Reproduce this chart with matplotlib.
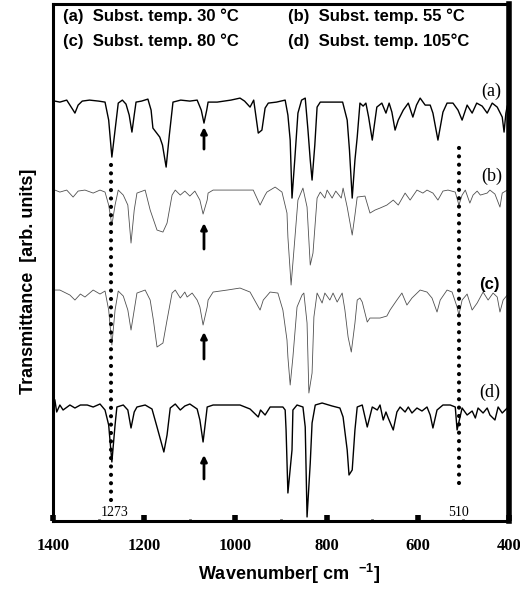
import matplotlib.pyplot as plt

plt.rcParams['font.family'] = ['Liberation Sans', 'DejaVu Sans']
plt.rcParams['mathtext.fontset'] = 'custom'
plt.rcParams['mathtext.rm'] = 'Liberation Sans:bold'
plt.rcParams['mathtext.bf'] = 'Liberation Sans:bold'

# Spektren (Wellenzahl, Transmission in willk. Einheiten)
wn_a = [1396, 1385, 1370, 1356, 1352, 1345, 1336, 1320, 1300, 1286, 1278, 1271, 1264, 1257, 1248, 1240,
        1233, 1227, 1222, 1218, 1206, 1192, 1185, 1181, 1166, 1160, 1152, 1145, 1137, 1120, 1100, 1084,
        1075, 1069, 1063, 1060, 1040, 1010, 990, 980, 968, 960, 950, 942, 935, 928, 910, 891, 885, 880,
        876, 870, 863, 855, 847, 841, 836, 832, 826, 821, 814, 790, 765, 755, 750, 744, 738, 733, 727,
        720, 714, 708, 700, 690, 679, 670, 663, 657, 650, 643, 632, 621, 611, 603, 595, 584, 573, 567,
        556, 545, 536, 523, 512, 503, 492, 481, 471, 459, 448, 437, 426, 415, 411, 407, 404]
tr_a = [420, 419, 421, 411, 408, 416, 420, 421, 420, 419, 401, 364, 391, 418, 421, 417,
        406, 389, 406, 419, 420, 422, 411, 393, 384, 376, 354, 386, 419, 421, 420, 421,
        411, 398, 411, 419, 419, 421, 423, 420, 414, 421, 388, 391, 413, 418, 419, 421, 406, 381,
        323, 361, 408, 421, 423, 391, 361, 341, 376, 414, 419, 419, 419, 401, 371, 323, 361, 384, 418,
        415, 418, 404, 381, 414, 418, 408, 418, 409, 391, 401, 411, 418, 404, 416, 423, 416, 416, 408,
        381, 409, 418, 418, 411, 401, 416, 408, 418, 415, 408, 418, 414, 404, 389, 408, 415]

wn_b = [1396, 1385, 1370, 1356, 1345, 1330, 1312, 1297, 1286, 1278, 1271, 1264, 1257, 1246, 1236, 1229,
        1222, 1216, 1198, 1187, 1172, 1159, 1150, 1139, 1132, 1121, 1111, 1100, 1089, 1078, 1071, 1062,
        1060, 1049, 1000, 961, 946, 935, 931, 913, 898, 887, 885, 878, 870, 863, 852, 843, 836, 830,
        821, 814, 804, 799, 788, 780, 768, 764, 755, 744, 738, 733, 716, 705, 694, 683, 668, 654, 643,
        628, 617, 602, 589, 580, 567, 556, 545, 534, 518, 510, 503, 496, 486, 479, 470, 463, 448, 442,
        431, 420, 415, 404]
tr_b = [331, 329, 331, 324, 330, 331, 328, 331, 329, 316, 296, 316, 331, 326, 316, 278,
        311, 328, 331, 311, 291, 289, 298, 326, 331, 326, 330, 325, 330, 321, 307, 321,
        328, 331, 331, 331, 316, 326, 329, 334, 329, 308, 284, 236, 281, 321, 333, 314, 256, 268,
        323, 329, 323, 331, 323, 330, 323, 333, 314, 286, 306, 324, 325, 308, 311, 313, 316, 321, 316,
        328, 321, 331, 328, 331, 328, 321, 330, 331, 329, 316, 326, 331, 318, 326, 330, 326, 328, 331,
        327, 314, 328, 331]

wn_c = [1396, 1385, 1363, 1352, 1340, 1330, 1312, 1297, 1286, 1278, 1271, 1264, 1257, 1246, 1236, 1229,
        1222, 1216, 1198, 1187, 1180, 1172, 1159, 1150, 1139, 1132, 1121, 1111, 1106, 1095, 1084, 1078,
        1071, 1062, 1060, 1049, 1018, 990, 968, 946, 939, 924, 907, 896, 887, 885, 880, 874, 865, 854,
        850, 843, 839, 832, 828, 821, 810, 804, 793, 786, 777, 766, 760, 753, 746, 738, 733, 727, 722,
        711, 705, 694, 683, 668, 661, 646, 635, 624, 613, 595, 580, 569, 558, 551, 536, 525, 514, 510,
        503, 492, 481, 470, 457, 446, 435, 426, 420, 413, 404]
tr_c = [231, 231, 226, 221, 227, 224, 231, 227, 230, 211, 176, 211, 230, 225, 211, 191,
        211, 228, 231, 221, 201, 174, 178, 201, 228, 231, 223, 229, 224, 228, 221, 214,
        196, 214, 221, 229, 231, 233, 229, 211, 221, 229, 228, 211, 181, 164, 136, 164, 214, 226,
        228, 198, 128, 148, 204, 228, 218, 228, 221, 228, 219, 228, 211, 184, 169, 198, 221, 223, 219,
        199, 203, 203, 203, 205, 211, 221, 228, 216, 223, 231, 229, 223, 209, 221, 231, 229, 214, 206,
        221, 227, 211, 218, 229, 221, 228, 224, 209, 221, 226]

wn_d = [1396, 1392, 1385, 1378, 1363, 1352, 1340, 1325, 1312, 1297, 1286, 1278, 1271, 1264, 1260, 1246,
        1236, 1229, 1222, 1216, 1198, 1183, 1172, 1157, 1150, 1143, 1132, 1121, 1111, 1100, 1084, 1078,
        1071, 1064, 1062, 1049, 990, 968, 950, 945, 935, 924, 902, 896, 891, 889, 885, 876, 874, 865,
        852, 847, 843, 836, 832, 825, 810, 788, 771, 764, 755, 751, 744, 738, 733, 722, 711, 700, 689,
        683, 676, 670, 665, 654, 646, 639, 628, 621, 613, 602, 591, 580, 573, 567, 558, 545, 529, 518,
        514, 503, 492, 481, 474, 468, 457, 448, 442, 431, 424, 415, 404]
tr_d = [121, 109, 116, 111, 116, 113, 116, 116, 114, 117, 111, 96, 59, 96, 114, 116,
        111, 93, 109, 114, 116, 112, 94, 69, 86, 113, 117, 111, 115, 117, 112, 101,
        79, 106, 114, 116, 116, 112, 104, 111, 106, 114, 114, 114, 111, 91, 28, 71, 111, 116,
        114, 94, 4, 58, 98, 116, 118, 115, 113, 104, 71, 46, 51, 91, 114, 116, 94, 114, 111,
        116, 101, 109, 103, 91, 109, 114, 109, 114, 108, 113, 110, 114, 106, 93, 111, 116, 116, 114,
        91, 113, 106, 110, 103, 113, 108, 113, 106, 101, 114, 108, 113]

spectra = [(wn_a, tr_a), (wn_b, tr_b), (wn_c, tr_c), (wn_d, tr_d)]
trace_names = ['(a)', '(b)', '(c)', '(d)']
legend_texts = ['(a)  Subst. temp. 30 °C', '(b)  Subst. temp. 55 °C',
                '(c)  Subst. temp. 80 °C', '(d)  Subst. temp. 105°C']

# markierte Banden
band_lines = [1273, 510]
band_line_top = [361, 381]
band_line_bottom = [21, 38]
arrow_wn = 1069
arrow_tail = [372, 272, 162, 42]
arrow_head = [394, 298, 189, 66]

fig = plt.figure(figsize=(5.2, 5.9), dpi=100)
ax = fig.add_axes([0.102, 0.117, 0.877, 0.876])

styles = [dict(color='black', lw=1.0), dict(color='#505050', lw=0.6),
          dict(color='#505050', lw=0.6), dict(color='black', lw=1.0)]
for (wn, tr), st in zip(spectra, styles):
    ax.plot(wn, tr, **st)

# Punktlinien bei 1273 und 510 cm-1
for w, top, bot in zip(band_lines, band_line_top, band_line_bottom):
    ax.plot([w, w], [bot, top], color='black', lw=3, ls=(0, (0.01, 2.0)),
            dash_capstyle='round')
ax.text(1266, 2, '1273', family='Liberation Serif', fontsize=10, ha='center', va='bottom')
ax.text(510, 2, '510', family='Liberation Serif', fontsize=10, ha='center', va='bottom')

# Pfeile bei 1069 cm-1
for t, h in zip(arrow_tail, arrow_head):
    ax.annotate('', xy=(arrow_wn, h), xytext=(arrow_wn, t),
                arrowprops=dict(arrowstyle='-|>', color='black', lw=2,
                                mutation_scale=9, shrinkA=0, shrinkB=0))

# Kurvenbeschriftung
label_pos = [(440, 430), (437, 345), (444, 237), (442, 129)]
for name, (x, y) in zip(trace_names, label_pos):
    if name == '(c)':
        ax.text(x, y, name, fontsize=12, fontweight='bold', ha='center', va='center')
    else:
        ax.text(x, y, name, family='Liberation Serif', fontsize=13, ha='center', va='center')

# Legende als Text
legend_pos = [(1378, 505), (885, 505), (1378, 480), (885, 480)]
for txt, (x, y) in zip(legend_texts, legend_pos):
    ax.text(x, y, txt, fontsize=12, fontweight='bold', ha='left', va='center')

ax.set_xlim(1400, 400)
ax.set_ylim(0, 517)
ax.set_xticks([1400, 1200, 1000, 800, 600, 400])
ax.set_xticks([1300, 1100, 900, 700, 500], minor=True)
ax.set_yticks([])
ax.tick_params(axis='x', which='major', direction='in', length=4, width=4, pad=12.5)
ax.tick_params(axis='x', which='minor', direction='in', length=1.5, width=2)
for lbl in ax.get_xticklabels():
    lbl.set_family('Liberation Serif')
    lbl.set_fontweight('bold')
    lbl.set_fontsize(12)

for side in ['left', 'bottom', 'top']:
    ax.spines[side].set_linewidth(2.2)
ax.spines['right'].set_linewidth(4)

ax.set_xlabel(r'Wavenumber[ cm  $^{\mathbf{-1}}$]', fontsize=13, fontweight='bold')
ax.xaxis.set_label_coords(0.517, -0.079)
ax.set_ylabel('Transmittance  [arb. units]', fontsize=13, fontweight='bold')
ax.yaxis.set_label_coords(-0.035, 0.464)

plt.savefig('out.png', dpi=100)
